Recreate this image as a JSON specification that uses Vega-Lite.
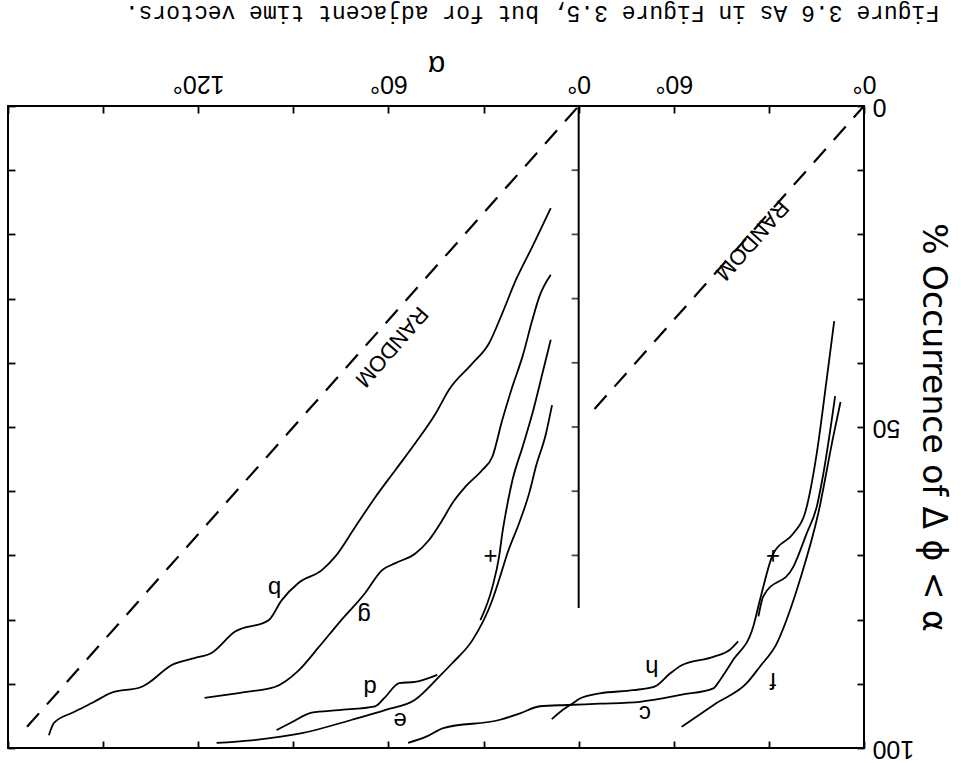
{
  "$schema": "https://vega.github.io/schema/vega-lite/v6.json",
  "width": 856,
  "height": 642,
  "autosize": {"type": "none"},
  "padding": {"left": 8, "top": 106, "right": 97, "bottom": 15},
  "background": "white",
  "config": {
    "view": {"stroke": "black", "strokeWidth": 2},
    "axis": {
      "domain": false, "grid": false, "tickColor": "black", "tickWidth": 1.8, "tickSize": -7,
      "labelColor": "black", "labelFont": "Liberation Sans", "labelFontSize": 25,
      "labelFlush": false, "labelOverlap": false,
      "titleColor": "black", "titleFontWeight": "normal", "titleFont": "Liberation Sans"
    }
  },
  "title": {
    "text": "Figure 3.6  As in Figure 3.5, but for adjacent time vectors.",
    "angle": 180, "font": "Liberation Mono", "fontSize": 23, "fontWeight": "normal",
    "color": "black", "anchor": "middle", "baseline": "middle", "offset": 13, "dx": -96
  },
  "datasets": {
    "panelA": [
      {"curve": "c", "alpha": 9.4, "pct": 33.5}, {"curve": "c", "alpha": 11.8, "pct": 42.7}, {"curve": "c", "alpha": 14.9, "pct": 54.1},
      {"curve": "c", "alpha": 18.6, "pct": 63.4}, {"curve": "c", "alpha": 22.3, "pct": 66.6}, {"curve": "c", "alpha": 28.6, "pct": 69.7},
      {"curve": "c", "alpha": 32.8, "pct": 76.9}, {"curve": "c", "alpha": 35.0, "pct": 81.2}, {"curve": "c", "alpha": 41.3, "pct": 86.3},
      {"curve": "c", "alpha": 45.4, "pct": 89.4}, {"curve": "c", "alpha": 47.5, "pct": 90.7}, {"curve": "c", "alpha": 57.5, "pct": 91.7},
      {"curve": "c", "alpha": 70.7, "pct": 92.8}, {"curve": "c", "alpha": 83.3, "pct": 93.1}, {"curve": "c", "alpha": 93.8, "pct": 93.3},
      {"curve": "c", "alpha": 102.2, "pct": 93.5}, {"curve": "c", "alpha": 108.5, "pct": 94.6}, {"curve": "c", "alpha": 114.8, "pct": 95.6},
      {"curve": "c", "alpha": 132.7, "pct": 96.9}, {"curve": "c", "alpha": 137.9, "pct": 98.2}, {"curve": "c", "alpha": 143.8, "pct": 99.2},
      {"curve": "+", "alpha": 9.1, "pct": 45.2}, {"curve": "+", "alpha": 12.8, "pct": 57.2}, {"curve": "+", "alpha": 14.9, "pct": 62.4},
      {"curve": "+", "alpha": 18.1, "pct": 66.6}, {"curve": "+", "alpha": 22.3, "pct": 71.8}, {"curve": "+", "alpha": 31.8, "pct": 76.4},
      {"curve": "+", "alpha": 33.3, "pct": 79.5},
      {"curve": "f", "alpha": 7.4, "pct": 46.1}, {"curve": "f", "alpha": 9.7, "pct": 51.5}, {"curve": "f", "alpha": 14.4, "pct": 63.4},
      {"curve": "f", "alpha": 20.2, "pct": 73.8}, {"curve": "f", "alpha": 23.3, "pct": 78.5}, {"curve": "f", "alpha": 27.5, "pct": 83.7},
      {"curve": "f", "alpha": 32.8, "pct": 87.3}, {"curve": "f", "alpha": 37.0, "pct": 89.9}, {"curve": "f", "alpha": 46.5, "pct": 93.0},
      {"curve": "f", "alpha": 57.5, "pct": 96.7},
      {"curve": "h", "alpha": 39.7, "pct": 83.4}, {"curve": "h", "alpha": 42.3, "pct": 84.7}, {"curve": "h", "alpha": 47.5, "pct": 85.8},
      {"curve": "h", "alpha": 57.5, "pct": 87.1}, {"curve": "h", "alpha": 61.2, "pct": 88.4}, {"curve": "h", "alpha": 65.9, "pct": 90.4},
      {"curve": "h", "alpha": 72.8, "pct": 91.0}, {"curve": "h", "alpha": 83.3, "pct": 91.5}, {"curve": "h", "alpha": 89.6, "pct": 92.3},
      {"curve": "h", "alpha": 91.7, "pct": 93.0}, {"curve": "h", "alpha": 94.3, "pct": 93.8}, {"curve": "h", "alpha": 98.5, "pct": 95.5}
    ],
    "panelB": [
      {"curve": "b", "alpha": 8.8, "pct": 15.9}, {"curve": "b", "alpha": 14.6, "pct": 21.9}, {"curve": "b", "alpha": 19.8, "pct": 27.1},
      {"curve": "b", "alpha": 24.1, "pct": 32.3}, {"curve": "b", "alpha": 28.3, "pct": 37.0}, {"curve": "b", "alpha": 33.5, "pct": 40.1},
      {"curve": "b", "alpha": 40.9, "pct": 44.2}, {"curve": "b", "alpha": 45.1, "pct": 47.9}, {"curve": "b", "alpha": 51.5, "pct": 52.5},
      {"curve": "b", "alpha": 57.8, "pct": 56.7}, {"curve": "b", "alpha": 64.1, "pct": 60.9}, {"curve": "b", "alpha": 70.4, "pct": 65.5},
      {"curve": "b", "alpha": 76.8, "pct": 70.2}, {"curve": "b", "alpha": 81.0, "pct": 72.3}, {"curve": "b", "alpha": 88.4, "pct": 74.3},
      {"curve": "b", "alpha": 93.7, "pct": 77.0}, {"curve": "b", "alpha": 97.8, "pct": 80.1}, {"curve": "b", "alpha": 108.5, "pct": 81.9},
      {"curve": "b", "alpha": 115.8, "pct": 85.2}, {"curve": "b", "alpha": 121.2, "pct": 86.0}, {"curve": "b", "alpha": 128.5, "pct": 87.1},
      {"curve": "b", "alpha": 135.8, "pct": 89.9}, {"curve": "b", "alpha": 138.0, "pct": 90.5}, {"curve": "b", "alpha": 147.5, "pct": 91.4},
      {"curve": "b", "alpha": 152.8, "pct": 92.8}, {"curve": "b", "alpha": 159.2, "pct": 94.4}, {"curve": "b", "alpha": 165.5, "pct": 96.1},
      {"curve": "b", "alpha": 167.1, "pct": 98.0},
      {"curve": "g", "alpha": 8.8, "pct": 26.3}, {"curve": "g", "alpha": 12.4, "pct": 29.7}, {"curve": "g", "alpha": 14.6, "pct": 33.3},
      {"curve": "g", "alpha": 17.7, "pct": 39.0}, {"curve": "g", "alpha": 20.9, "pct": 43.7}, {"curve": "g", "alpha": 24.1, "pct": 48.9},
      {"curve": "g", "alpha": 27.2, "pct": 54.6}, {"curve": "g", "alpha": 30.4, "pct": 56.7}, {"curve": "g", "alpha": 35.7, "pct": 59.3},
      {"curve": "g", "alpha": 39.9, "pct": 61.9}, {"curve": "g", "alpha": 43.0, "pct": 64.5}, {"curve": "g", "alpha": 47.2, "pct": 67.6},
      {"curve": "g", "alpha": 51.5, "pct": 69.7}, {"curve": "g", "alpha": 57.8, "pct": 71.2}, {"curve": "g", "alpha": 62.0, "pct": 72.3},
      {"curve": "g", "alpha": 67.4, "pct": 75.9}, {"curve": "g", "alpha": 75.6, "pct": 80.5}, {"curve": "g", "alpha": 82.0, "pct": 84.3},
      {"curve": "g", "alpha": 88.3, "pct": 87.9}, {"curve": "g", "alpha": 95.9, "pct": 90.5}, {"curve": "g", "alpha": 105.4, "pct": 91.3},
      {"curve": "g", "alpha": 118.0, "pct": 92.2},
      {"curve": "+", "alpha": 8.8, "pct": 36.4}, {"curve": "+", "alpha": 11.4, "pct": 41.6}, {"curve": "+", "alpha": 14.6, "pct": 47.9},
      {"curve": "+", "alpha": 17.7, "pct": 53.1}, {"curve": "+", "alpha": 20.9, "pct": 58.3}, {"curve": "+", "alpha": 23.0, "pct": 63.4},
      {"curve": "+", "alpha": 24.1, "pct": 66.6}, {"curve": "+", "alpha": 25.1, "pct": 70.2}, {"curve": "+", "alpha": 27.2, "pct": 74.9},
      {"curve": "+", "alpha": 31.0, "pct": 80.1},
      {"curve": "e", "alpha": 8.4, "pct": 46.6}, {"curve": "e", "alpha": 10.3, "pct": 51.0}, {"curve": "e", "alpha": 13.5, "pct": 56.2},
      {"curve": "e", "alpha": 15.6, "pct": 60.3}, {"curve": "e", "alpha": 18.8, "pct": 65.0}, {"curve": "e", "alpha": 22.5, "pct": 69.7},
      {"curve": "e", "alpha": 25.1, "pct": 73.8}, {"curve": "e", "alpha": 27.2, "pct": 76.9}, {"curve": "e", "alpha": 33.5, "pct": 83.2},
      {"curve": "e", "alpha": 39.9, "pct": 86.8}, {"curve": "e", "alpha": 44.0, "pct": 88.9}, {"curve": "e", "alpha": 51.6, "pct": 92.5},
      {"curve": "e", "alpha": 61.1, "pct": 94.1}, {"curve": "e", "alpha": 71.5, "pct": 95.6}, {"curve": "e", "alpha": 87.3, "pct": 97.7},
      {"curve": "e", "alpha": 103.2, "pct": 98.8}, {"curve": "e", "alpha": 114.2, "pct": 99.2},
      {"curve": "d", "alpha": 44.6, "pct": 88.6}, {"curve": "d", "alpha": 51.6, "pct": 89.7}, {"curve": "d", "alpha": 56.6, "pct": 89.9},
      {"curve": "d", "alpha": 61.1, "pct": 92.1}, {"curve": "d", "alpha": 64.2, "pct": 93.5}, {"curve": "d", "alpha": 75.6, "pct": 94.1},
      {"curve": "d", "alpha": 84.2, "pct": 94.5}, {"curve": "d", "alpha": 90.5, "pct": 96.0}, {"curve": "d", "alpha": 95.3, "pct": 97.2}
    ],
    "randomA": [{"alpha": 0, "pct": 0}, {"alpha": 85, "pct": 47.2}],
    "randomB": [{"alpha": 0, "pct": 0}, {"alpha": 174, "pct": 96.7}],
    "dividerB": [{"alpha": 0, "from": 0, "to": 78.2}],
    "dividerTicks": [{"alpha": 0, "pct": 10}, {"alpha": 0, "pct": 20}, {"alpha": 0, "pct": 30}, {"alpha": 0, "pct": 40}, {"alpha": 0, "pct": 50}, {"alpha": 0, "pct": 60}, {"alpha": 0, "pct": 70}],
    "labelsA": [
      {"label": "c", "alpha": 69.1, "pct": 94.5}, {"label": "h", "alpha": 66.9, "pct": 87.4},
      {"label": "f", "alpha": 28.7, "pct": 89.4}, {"label": "+", "alpha": 28.7, "pct": 69.9}
    ],
    "labelsB": [
      {"label": "b", "alpha": 95.9, "pct": 75.1}, {"label": "g", "alpha": 67.7, "pct": 79.3},
      {"label": "d", "alpha": 65.8, "pct": 90.5}, {"label": "e", "alpha": 56.3, "pct": 95.6},
      {"label": "+", "alpha": 27.8, "pct": 69.9}
    ],
    "randomLabelA": [{"label": "RANDOM", "alpha": 35.3, "pct": 20.9}],
    "randomLabelB": [{"label": "RANDOM", "alpha": 59, "pct": 37.5}]
  },
  "layer": [
    {
      "data": {"name": "panelA"},
      "mark": {"type": "line", "stroke": "black", "strokeWidth": 1.8, "interpolate": "monotone"},
      "encoding": {
        "x": {"field": "alpha", "type": "quantitative",
          "scale": {"domain": [0, 270], "reverse": true, "nice": false, "zero": false},
          "axis": {"orient": "top", "values": [0, 30, 60],
            "labelExpr": "datum.value % 60 == 0 ? datum.value + '°' : ''",
            "labelAngle": 180, "labelAlign": "center", "labelBaseline": "top", "labelPadding": 18,
            "title": "α", "titleAngle": 180, "titleBaseline": "middle", "titleFontSize": 30, "titleY": -42}},
        "y": {"field": "pct", "type": "quantitative",
          "scale": {"domain": [0, 100], "reverse": true, "nice": false},
          "axis": {"orient": "right", "values": [0, 10, 20, 30, 40, 50, 60, 70, 80, 90, 100],
            "labelExpr": "datum.value % 50 == 0 ? datum.label : ''",
            "labelAngle": 180, "labelAlign": "right", "labelBaseline": "middle", "labelPadding": 15,
            "title": "% Occurrence of Δ ϕ < α", "titleAngle": 90, "titleFont": "DejaVu Sans", "titleFontSize": 33, "titlePadding": 2}},
        "detail": {"field": "curve"}
      }
    },
    {
      "data": {"name": "panelB"},
      "mark": {"type": "line", "stroke": "black", "strokeWidth": 1.8, "interpolate": "monotone"},
      "encoding": {
        "x": {"field": "alpha", "type": "quantitative",
          "scale": {"domain": [-90, 180], "reverse": true, "nice": false, "zero": false},
          "axis": {"orient": "top", "values": [0, 30, 60, 90, 120, 150, 180],
            "labelExpr": "(datum.value % 60 == 0 && datum.value < 180) ? datum.value + '°' : ''",
            "labelAngle": 180, "labelAlign": "center", "labelBaseline": "top", "labelPadding": 18,
            "title": null}},
        "y": {"field": "pct", "type": "quantitative",
          "scale": {"domain": [0, 100], "reverse": true, "nice": false},
          "axis": {"orient": "left", "values": [0, 10, 20, 30, 40, 50, 60, 70, 80, 90, 100], "labels": false, "title": null}},
        "detail": {"field": "curve"}
      }
    },
    {
      "data": {"name": "randomA"},
      "mark": {"type": "line", "stroke": "black", "strokeWidth": 2.2, "strokeDash": [18, 12]},
      "encoding": {
        "x": {"field": "alpha", "type": "quantitative",
          "scale": {"domain": [0, 270], "reverse": true, "nice": false, "zero": false},
          "axis": {"orient": "bottom", "values": [0, 30, 60, 90, 120, 150, 180, 210, 240, 270], "labels": false, "title": null}},
        "y": {"field": "pct", "type": "quantitative", "scale": {"domain": [0, 100], "reverse": true, "nice": false}, "axis": null}
      }
    },
    {
      "data": {"name": "randomB"},
      "mark": {"type": "line", "stroke": "black", "strokeWidth": 2.2, "strokeDash": [18, 12]},
      "encoding": {
        "x": {"field": "alpha", "type": "quantitative", "scale": {"domain": [-90, 180], "reverse": true, "nice": false, "zero": false}, "axis": null},
        "y": {"field": "pct", "type": "quantitative", "scale": {"domain": [0, 100], "reverse": true, "nice": false}, "axis": null}
      }
    },
    {
      "data": {"name": "dividerB"},
      "mark": {"type": "rule", "stroke": "black", "strokeWidth": 2},
      "encoding": {
        "x": {"field": "alpha", "type": "quantitative", "scale": {"domain": [-90, 180], "reverse": true, "nice": false, "zero": false}, "axis": null},
        "y": {"field": "from", "type": "quantitative", "scale": {"domain": [0, 100], "reverse": true, "nice": false}, "axis": null},
        "y2": {"field": "to"}
      }
    },
    {
      "data": {"name": "dividerTicks"},
      "mark": {"type": "tick", "orient": "horizontal", "color": "black", "size": 7, "thickness": 1.8, "xOffset": -3.5},
      "encoding": {
        "x": {"field": "alpha", "type": "quantitative", "scale": {"domain": [-90, 180], "reverse": true, "nice": false, "zero": false}, "axis": null},
        "y": {"field": "pct", "type": "quantitative", "scale": {"domain": [0, 100], "reverse": true, "nice": false}, "axis": null}
      }
    },
    {
      "data": {"name": "labelsA"},
      "mark": {"type": "text", "angle": 180, "font": "Liberation Sans", "fontSize": 24, "color": "black", "align": "center", "baseline": "middle"},
      "encoding": {
        "x": {"field": "alpha", "type": "quantitative", "scale": {"domain": [0, 270], "reverse": true, "nice": false, "zero": false}, "axis": null},
        "y": {"field": "pct", "type": "quantitative", "scale": {"domain": [0, 100], "reverse": true, "nice": false}, "axis": null},
        "text": {"field": "label"}
      }
    },
    {
      "data": {"name": "labelsB"},
      "mark": {"type": "text", "angle": 180, "font": "Liberation Sans", "fontSize": 24, "color": "black", "align": "center", "baseline": "middle"},
      "encoding": {
        "x": {"field": "alpha", "type": "quantitative", "scale": {"domain": [-90, 180], "reverse": true, "nice": false, "zero": false}, "axis": null},
        "y": {"field": "pct", "type": "quantitative", "scale": {"domain": [0, 100], "reverse": true, "nice": false}, "axis": null},
        "text": {"field": "label"}
      }
    },
    {
      "data": {"name": "randomLabelA"},
      "mark": {"type": "text", "angle": 131.5, "font": "Liberation Sans", "fontSize": 22, "color": "black", "align": "center", "baseline": "middle"},
      "encoding": {
        "x": {"field": "alpha", "type": "quantitative", "scale": {"domain": [0, 270], "reverse": true, "nice": false, "zero": false}, "axis": null},
        "y": {"field": "pct", "type": "quantitative", "scale": {"domain": [0, 100], "reverse": true, "nice": false}, "axis": null},
        "text": {"field": "label"}
      }
    },
    {
      "data": {"name": "randomLabelB"},
      "mark": {"type": "text", "angle": 131, "font": "Liberation Sans", "fontSize": 22, "color": "black", "align": "center", "baseline": "middle"},
      "encoding": {
        "x": {"field": "alpha", "type": "quantitative", "scale": {"domain": [-90, 180], "reverse": true, "nice": false, "zero": false}, "axis": null},
        "y": {"field": "pct", "type": "quantitative", "scale": {"domain": [0, 100], "reverse": true, "nice": false}, "axis": null},
        "text": {"field": "label"}
      }
    }
  ],
  "resolve": {"scale": {"x": "independent"}, "axis": {"x": "independent", "y": "independent"}}
}
